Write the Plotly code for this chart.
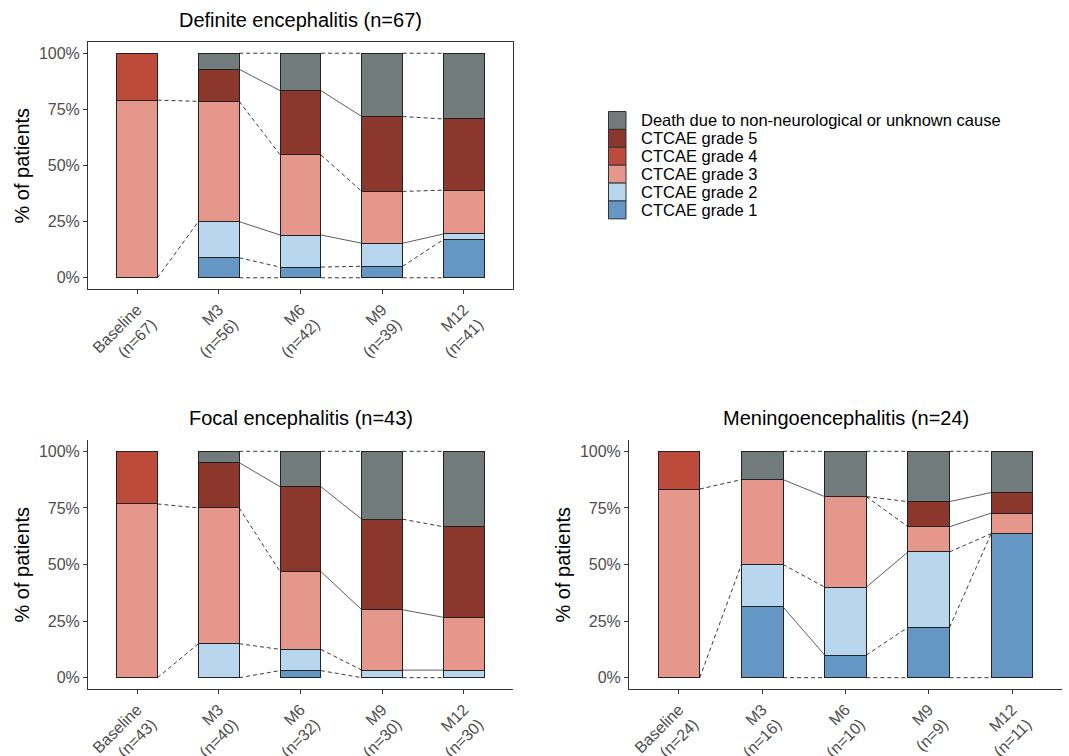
import plotly.graph_objects as go

# ---------------- data ----------------
CATEGORIES = ["CTCAE grade 1", "CTCAE grade 2", "CTCAE grade 3", "CTCAE grade 4",
              "CTCAE grade 5", "Death due to non-neurological or unknown cause"]
COLORS = ["#6497C3", "#B8D6EE", "#E5978C", "#BC4B3C", "#8B372C", "#717B7C"]
TIMEPOINTS = ["Baseline", "M3", "M6", "M9", "M12"]

definite_title = "Definite encephalitis (n=67)"
definite_n = [67, 56, 42, 39, 41]
definite_g1 = [0, 5, 2, 2, 7]
definite_g2 = [0, 9, 6, 4, 1]
definite_g3 = [53, 30, 15, 9, 8]
definite_g4 = [14, 0, 0, 0, 0]
definite_g5 = [0, 8, 12, 13, 13]
definite_death = [0, 4, 7, 11, 12]

focal_title = "Focal encephalitis (n=43)"
focal_n = [43, 40, 32, 30, 30]
focal_g1 = [0, 0, 1, 0, 0]
focal_g2 = [0, 6, 3, 1, 1]
focal_g3 = [33, 24, 11, 8, 7]
focal_g4 = [10, 0, 0, 0, 0]
focal_g5 = [0, 8, 12, 12, 12]
focal_death = [0, 2, 5, 9, 10]

meningo_title = "Meningoencephalitis (n=24)"
meningo_n = [24, 16, 10, 9, 11]
meningo_g1 = [0, 5, 1, 2, 7]
meningo_g2 = [0, 3, 3, 3, 0]
meningo_g3 = [20, 6, 4, 1, 1]
meningo_g4 = [4, 0, 0, 0, 0]
meningo_g5 = [0, 0, 0, 1, 1]
meningo_death = [0, 2, 2, 2, 2]

# line style of each flow boundary (per gap, bottom to top): D = dashed, S = solid
definite_styles = [["D", "D"], ["D", "D", "S", "D", "S", "D"],
                   ["D", "D", "S", "D", "S", "D"], ["D", "D", "S", "D", "D", "D"]]
focal_styles = [["D", "D"], ["D", "D", "D", "S", "D"],
                ["D", "D", "S", "S", "D"], ["D", "S", "S", "D", "D"]]
meningo_styles = [["D", "D"], ["D", "S", "D", "S", "D"],
                  ["D", "D", "S", "D", "D", "D"], ["D", "D", "D", "S", "S", "D"]]

panels = [
    dict(title=definite_title, n=definite_n,
         counts=[definite_g1, definite_g2, definite_g3, definite_g4, definite_g5, definite_death],
         styles=definite_styles, ax="", box=True,
         xdom=[88 / 1069, 513 / 1069], ydom=[1 - 289 / 756, 1 - 42 / 756]),
    dict(title=focal_title, n=focal_n,
         counts=[focal_g1, focal_g2, focal_g3, focal_g4, focal_g5, focal_death],
         styles=focal_styles, ax="2", box=False,
         xdom=[88 / 1069, 513 / 1069], ydom=[1 - 689 / 756, 1 - 440 / 756]),
    dict(title=meningo_title, n=meningo_n,
         counts=[meningo_g1, meningo_g2, meningo_g3, meningo_g4, meningo_g5, meningo_death],
         styles=meningo_styles, ax="3", box=False,
         xdom=[629 / 1069, 1062 / 1069], ydom=[1 - 689 / 756, 1 - 440 / 756]),
]

FONT = "Liberation Sans, Arial, Helvetica, sans-serif"
BAR_W = 0.5

fig = go.Figure()
layout = dict(
    width=1069, height=756, margin=dict(l=0, r=0, t=0, b=0),
    paper_bgcolor="white", plot_bgcolor="white", barmode="stack",
    showlegend=False, font=dict(family=FONT, color="#000000"),
    shapes=[], annotations=[],
)

for p in panels:
    ax = p["ax"]
    xref = "x" + ax
    yref = "y" + ax
    n = p["n"]
    fr = [[(c[t] / n[t]) for t in range(len(n))] for c in p["counts"]]
    xs = list(range(len(TIMEPOINTS)))
    # bars
    for k, cat in enumerate(CATEGORIES):
        yv = [v if v > 0 else None for v in fr[k]]
        fig.add_trace(go.Bar(
            x=xs, y=yv, name=cat, width=BAR_W, xaxis=xref, yaxis=yref,
            marker=dict(color=COLORS[k], line=dict(color="#222222", width=1)),
            showlegend=False, hoverinfo="skip"))
    # flow boundary lines
    for i in range(len(n) - 1):
        edges = set()
        for k in range(len(CATEGORIES)):
            if p["counts"][k][i] > 0 and p["counts"][k][i + 1] > 0:
                b0 = sum(fr[j][i] for j in range(k))
                b1 = sum(fr[j][i + 1] for j in range(k))
                edges.add((round(b0, 6), round(b1, 6)))
                edges.add((round(b0 + fr[k][i], 6), round(b1 + fr[k][i + 1], 6)))
        edges = sorted(edges)
        for e, st in zip(edges, p["styles"][i]):
            fig.add_trace(go.Scatter(
                x=[i + BAR_W / 2, i + 1 - BAR_W / 2], y=[e[0], e[1]],
                mode="lines", xaxis=xref, yaxis=yref, showlegend=False, hoverinfo="skip",
                line=dict(color="#222222" if st == "D" else "#333333",
                          width=0.9 if st == "D" else 0.8,
                          dash="4px,3px" if st == "D" else "solid")))
    ticktext = [f"{t}<br>(n={nn})" for t, nn in zip(TIMEPOINTS, n)]
    layout["xaxis" + ax] = dict(
        domain=p["xdom"], range=[-0.6, 4.6], anchor=yref,
        tickmode="array", tickvals=xs, ticktext=ticktext, tickangle=-45,
        tickfont=dict(size=16, color="#4D4D4D", family=FONT),
        ticks="outside", ticklen=4, tickcolor="#333333", tickwidth=1,
        showline=True, linecolor="#333333", linewidth=1, mirror=p["box"],
        showgrid=False, zeroline=False, fixedrange=True, automargin=False)
    layout["yaxis" + ax] = dict(
        domain=p["ydom"], range=[-0.05, 1.05], anchor=xref,
        tickmode="array", tickvals=[0, 0.25, 0.5, 0.75, 1.0],
        ticktext=["0%", "25%", "50%", "75%", "100%"],
        tickfont=dict(size=16, color="#4D4D4D", family=FONT),
        ticks="outside", ticklen=4, tickcolor="#333333", tickwidth=1,
        showline=True, linecolor="#333333", linewidth=1, mirror=p["box"],
        showgrid=False, zeroline=False, fixedrange=True, automargin=False)
    # panel title
    xc = (p["xdom"][0] + p["xdom"][1]) / 2
    layout["annotations"].append(dict(
        text=p["title"], x=xc, y=p["ydom"][1] + 22 / 756, xref="paper", yref="paper",
        xanchor="center", yanchor="middle", showarrow=False,
        font=dict(size=20, color="#000000", family=FONT)))
    # y axis title
    layout["annotations"].append(dict(
        text="% of patients", x=p["xdom"][0] - 67 / 1069,
        y=(p["ydom"][0] + p["ydom"][1]) / 2, xref="paper", yref="paper",
        xanchor="center", yanchor="middle", textangle=-90, showarrow=False,
        font=dict(size=20, color="#000000", family=FONT)))

# legend (drawn manually, top to bottom: death ... grade 1)
key_x0, key_x1 = 608.5, 626.0
key_top = 111.5
key_h = 17.9
for r, k in enumerate(reversed(range(len(CATEGORIES)))):
    y0 = key_top + r * key_h
    layout["shapes"].append(dict(
        type="rect", xref="paper", yref="paper",
        x0=key_x0 / 1069, x1=key_x1 / 1069,
        y0=1 - (y0 + key_h) / 756, y1=1 - y0 / 756,
        fillcolor=COLORS[k], line=dict(color="#333333", width=1)))
    layout["annotations"].append(dict(
        text=CATEGORIES[k], x=639 / 1069, y=1 - (y0 + key_h / 2) / 756,
        xref="paper", yref="paper", xanchor="left", yanchor="middle",
        showarrow=False, font=dict(size=16.5, color="#000000", family=FONT)))

fig.update_layout(**layout)
fig.write_html("out.html", config={"displayModeBar": False, "staticPlot": True},
               post_script="document.body.style.margin='0';document.body.style.padding='0';"
                           "document.documentElement.style.overflow='hidden';")
